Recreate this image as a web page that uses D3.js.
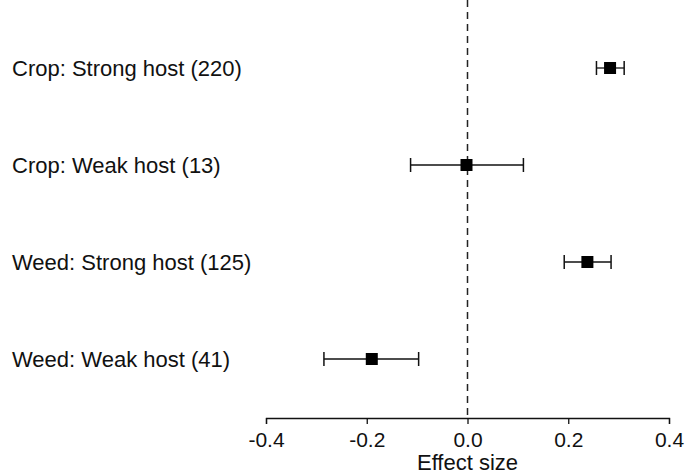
<!DOCTYPE html>
<html><head><meta charset="utf-8">
<script src="https://cdn.jsdelivr.net/npm/d3@7"></script>
<style>body{margin:0;background:#fff}svg{display:block}text{font-family:"Liberation Sans",Arial,sans-serif;fill:#111}</style>
</head><body><svg id="c" width="697" height="476"></svg>
<script>
const categories = ["Crop: Strong host (220)","Crop: Weak host (13)","Weed: Strong host (125)","Weed: Weak host (41)"];
const estimates = [0.283, -0.002, 0.238, -0.190];
const lower = [0.256, -0.113, 0.192, -0.285];
const upper = [0.311, 0.111, 0.285, -0.097];
const ticks = [-0.4,-0.2,0.0,0.2,0.4];

const svg = d3.select("#c");
const x = d3.scaleLinear().domain([-0.4,0.4]).range([266,669]);
const y = d3.scalePoint().domain(categories).range([68,359]);
const axisY = 418;

svg.append("line").attr("x1",x(0)).attr("x2",x(0)).attr("y1",0).attr("y2",axisY)
  .attr("stroke","#222").attr("stroke-width",1.5).attr("stroke-dasharray","7,5");

const fmt = d3.format(".1f");
const ax = svg.append("g").attr("transform",`translate(0,${axisY})`)
  .call(d3.axisBottom(x).tickValues(ticks).tickFormat(d=>fmt(d).replace("\u2212","-")).tickSize(6).tickPadding(8));
ax.select(".domain").attr("stroke","#111").attr("stroke-width",1.3);
ax.selectAll(".tick line").attr("stroke","#111").attr("stroke-width",1.3);
ax.selectAll(".tick text").attr("font-size",21).attr("fill","#111").style("font-family","Liberation Sans, Arial, sans-serif");

svg.append("text").attr("x",x(0)).attr("y",470).attr("text-anchor","middle").attr("font-size",22).text("Effect size");

const rows = categories.map((c,i)=>({c,e:estimates[i],lo:lower[i],hi:upper[i]}));
const g = svg.selectAll("g.row").data(rows).join("g").attr("class","row");
g.append("line").attr("x1",d=>x(d.lo)).attr("x2",d=>x(d.hi)).attr("y1",d=>y(d.c)).attr("y2",d=>y(d.c)).attr("stroke","#111").attr("stroke-width",1.3);
g.append("line").attr("x1",d=>x(d.lo)).attr("x2",d=>x(d.lo)).attr("y1",d=>y(d.c)-7).attr("y2",d=>y(d.c)+7).attr("stroke","#111").attr("stroke-width",1.5);
g.append("line").attr("x1",d=>x(d.hi)).attr("x2",d=>x(d.hi)).attr("y1",d=>y(d.c)-7).attr("y2",d=>y(d.c)+7).attr("stroke","#111").attr("stroke-width",1.5);
g.append("rect").attr("x",d=>x(d.e)-6).attr("y",d=>y(d.c)-6).attr("width",12).attr("height",12).attr("fill","#000");
g.append("text").attr("x",12).attr("y",d=>y(d.c)+8).attr("font-size",22).text(d=>d.c);
</script></body></html>
